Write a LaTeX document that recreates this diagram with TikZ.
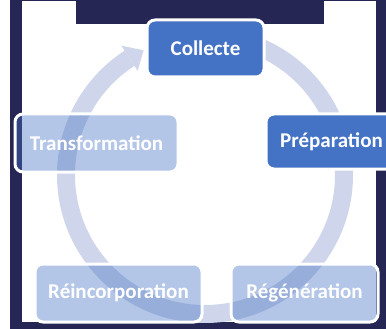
\documentclass[tikz,border=0pt]{standalone}
\usepackage{fontspec}
\setmainfont{Carlito}
\usetikzlibrary{calc}
\definecolor{navy}{RGB}{38,38,84}
\definecolor{mainblue}{RGB}{68,114,196}
\definecolor{ringcol}{RGB}{207,213,234}
\begin{document}
\begin{tikzpicture}[x=1pt,y=1pt,
  stepnode/.style={rounded corners=8pt, draw=white, line width=3pt, text=white,
    font=\fontsize{21}{25}\selectfont\bfseries, inner sep=0pt},
  solidnode/.style={stepnode, fill=mainblue},
  lightnode/.style={stepnode, fill=mainblue, fill opacity=0.4, text opacity=1, draw opacity=1},
  ring/.style={draw=ringcol, line width=18pt}]
\useasboundingbox (0,0) rectangle (386,-329);
\clip (0,0) rectangle (386,-329);
% frame
\fill[white] (0,0) rectangle (386,-329);
\fill[navy] (10,0) rectangle (386,-329);
\fill[white] (22,-1) rectangle (376,-322);
\fill[navy] (76,0) rectangle (324,-24);
% ring with arrow
\coordinate (C) at (205,-175);
\begin{scope}
  \clip (22,-1) rectangle (376,-322);
  \draw[ring] (C) ++(95:139pt) arc[start angle=95, end angle=-237.1, radius=139pt];
  \fill[ringcol] ($(C)+(122.9:124pt)$) -- ($(C)+(116.2:139pt)$) -- ($(C)+(122.9:154pt)$) -- cycle;
\end{scope}
% nodes
\node[solidnode, minimum width=117pt, minimum height=57pt] (collecte) at (205.5,-48.5) {Collecte};
\node[solidnode, minimum width=131pt, minimum height=55pt] (prep) at (331.5,-141.5) {Préparation};
\node[lightnode, minimum width=163pt, minimum height=58pt] (trans) at (96.5,-143) {Transformation};
\node[lightnode, minimum width=167pt, minimum height=58pt] (reinc) at (118.5,-293) {Réincorporation};
\node[lightnode, minimum width=147pt, minimum height=58pt] (regen) at (304.5,-293) {Régénération};
\end{tikzpicture}
\end{document}
